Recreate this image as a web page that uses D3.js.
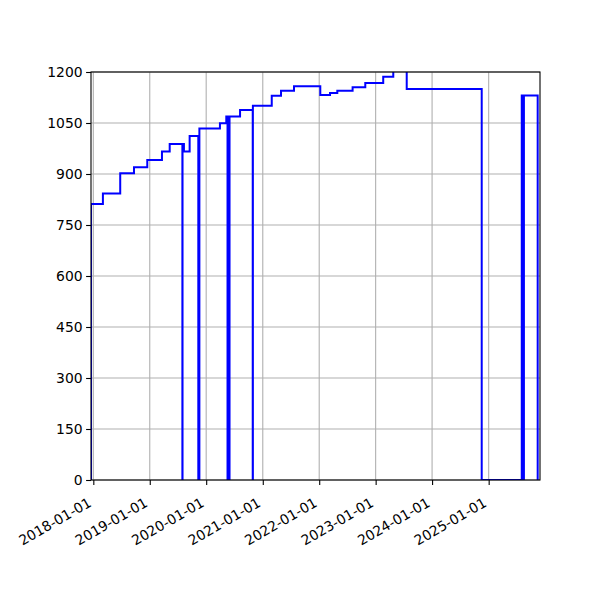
<!DOCTYPE html>
<html>
<head>
<meta charset="utf-8">
<script src="https://cdn.jsdelivr.net/npm/d3@7"></script>
<style>
  body { margin: 0; background: #fff; }
  svg { display: block; }
</style>
</head>
<body>
<svg id="chart" width="600" height="600"></svg>
<script>
// step series: each date starts a new level that holds until the next date
const DATES = [
  "2017-12-17","2017-12-17","2018-03-04","2018-06-24","2018-09-21","2018-12-16",
  "2019-03-21","2019-05-10","2019-07-31","2019-08-01","2019-08-10","2019-09-16",
  "2019-11-11","2019-11-18","2020-03-30","2020-05-10","2020-05-18","2020-05-19",
  "2020-05-30","2020-05-31","2020-08-07","2020-10-28","2020-10-29","2021-02-28",
  "2021-04-29","2021-07-22","2022-01-08","2022-03-12","2022-04-28","2022-08-05",
  "2022-10-26","2023-02-19","2023-04-25","2023-07-21","2024-11-17","2025-08-03",
  "2025-08-10","2025-08-17","2025-11-14"
];
const VALUES = [
  0, 812, 843, 902, 920, 941,
  966, 988, 0, 988, 966, 1012,
  0, 1034, 1049, 1069, 0, 1069,
  0, 1069, 1088, 0, 1101, 1130,
  1145, 1158, 1132, 1138, 1145, 1155,
  1168, 1186, 1215, 1150, 0, 1131,
  0, 1131, 0
];
const X_RANGE = ["2017-12-17", "2025-11-29"];
const X_TICKS = ["2018-01-01","2019-01-01","2020-01-01","2021-01-01","2022-01-01","2023-01-01","2024-01-01","2025-01-01"];
const Y_TICKS = [0, 150, 300, 450, 600, 750, 900, 1050, 1200];

const FONT = "DejaVu Sans, sans-serif";
const parse = d3.timeParse("%Y-%m-%d");
const data = DATES.map((d, i) => ({ date: parse(d), value: VALUES[i] }));

const margin = { left: 91, right: 60, top: 72, bottom: 120 };
const W = 600, H = 600;
const iW = W - margin.left - margin.right;
const iH = H - margin.top - margin.bottom;

const svg = d3.select("#chart");
const g = svg.append("g").attr("transform", `translate(${margin.left},${margin.top})`);

// ── Scales ────────────────────────────────────────────────────
const xs = d3.scaleTime().domain(X_RANGE.map(parse)).range([0, iW]);
const ys = d3.scaleLinear().domain([0, 1200]).range([iH, 0]);

// ── Grid ──────────────────────────────────────────────────────
X_TICKS.forEach(t => {
  g.append("line")
    .attr("x1", xs(parse(t))).attr("x2", xs(parse(t)))
    .attr("y1", 0).attr("y2", iH)
    .attr("stroke", "#b0b0b0").attr("stroke-width", 1.1);
});
Y_TICKS.forEach(t => {
  g.append("line")
    .attr("x1", 0).attr("x2", iW)
    .attr("y1", ys(t)).attr("y2", ys(t))
    .attr("stroke", "#b0b0b0").attr("stroke-width", 1.1);
});

// ── Line ──────────────────────────────────────────────────────
svg.append("defs").append("clipPath").attr("id", "clip")
  .append("rect").attr("width", iW).attr("height", iH);

const line = d3.line()
  .x(d => xs(d.date))
  .y(d => ys(d.value))
  .curve(d3.curveStepAfter);

g.append("path")
  .datum(data)
  .attr("clip-path", "url(#clip)")
  .attr("d", line)
  .attr("fill", "none")
  .attr("stroke", "#0000ff")
  .attr("stroke-width", 2);

// ── Axes ──────────────────────────────────────────────────────
const xAxis = g.append("g").attr("transform", `translate(0,${iH})`)
  .call(d3.axisBottom(xs).tickValues(X_TICKS.map(parse)).tickFormat(d3.timeFormat("%Y-%m-%d"))
    .tickSize(4.9));
xAxis.select(".domain").remove();
xAxis.selectAll(".tick line").attr("stroke", "#000").attr("stroke-width", 1.1);
xAxis.selectAll("text")
  .attr("font-family", FONT).attr("font-size", "13.9px").attr("fill", "#000")
  .attr("text-anchor", "end")
  .attr("x", 0).attr("y", 0).attr("dy", 0)
  .attr("transform", "translate(-1.5,25.5) rotate(-30)");

const yAxis = g.append("g")
  .call(d3.axisLeft(ys).tickValues(Y_TICKS).tickFormat(d3.format("d")).tickSize(4.9).tickPadding(3.5));
yAxis.select(".domain").remove();
yAxis.selectAll(".tick line").attr("stroke", "#000").attr("stroke-width", 1.1);
yAxis.selectAll("text").attr("font-family", FONT).attr("font-size", "13.9px").attr("fill", "#000");

// frame
g.append("rect")
  .attr("width", iW).attr("height", iH)
  .attr("fill", "none").attr("stroke", "#000").attr("stroke-width", 1.1);
</script>
</body>
</html>
